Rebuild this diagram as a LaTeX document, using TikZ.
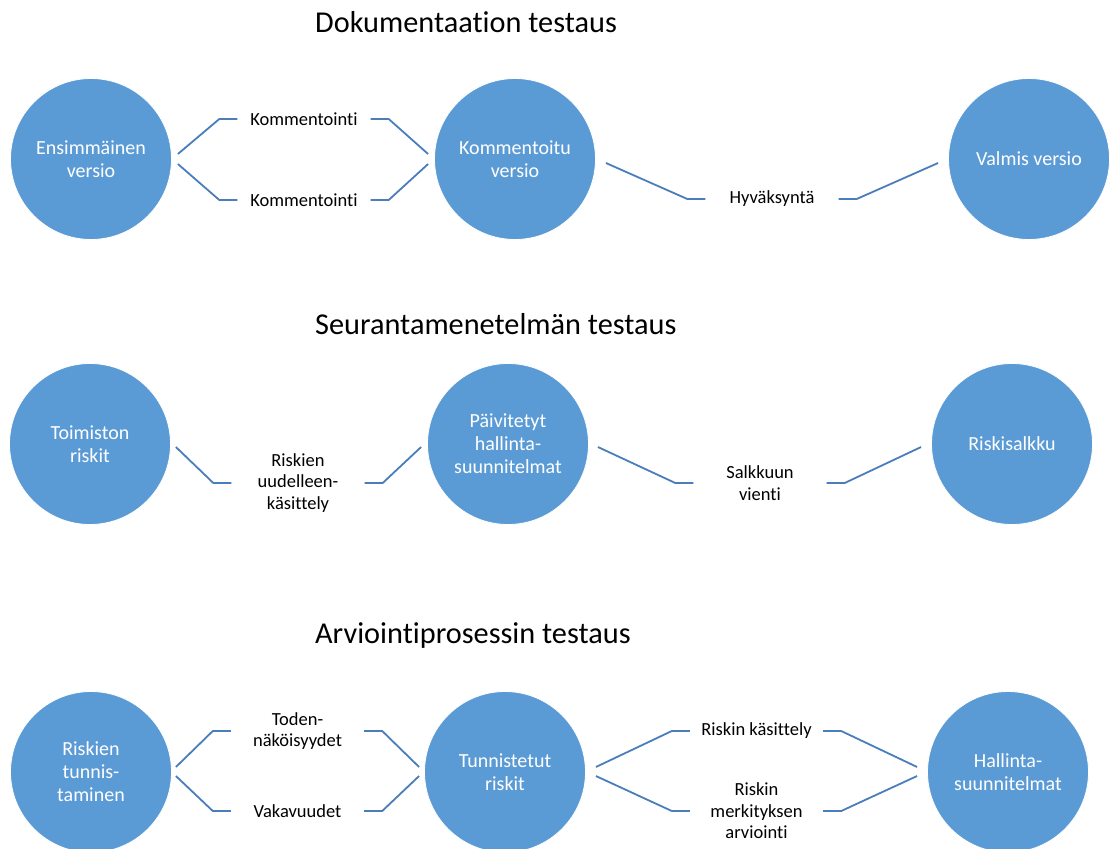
\documentclass[tikz,border=0pt]{standalone}
\usepackage{fontspec}
\setmainfont{Carlito}[RawFeature={-liga;-clig;-calt}]
\usetikzlibrary{calc}

\definecolor{discblue}{HTML}{5B9BD5}
\definecolor{linkblue}{HTML}{4A7EBB}

\tikzset{
  disc/.style={circle, fill=discblue, draw=white, line width=0.8pt,
    minimum size=161pt, inner sep=0pt, text=white, align=center,
    font=\fontsize{20}{23}\selectfont},
  tag/.style={minimum width=133pt, inner sep=0pt, align=center,
    font=\fontsize{18.5}{21.5}\selectfont},
  heading/.style={anchor=base west, inner sep=0pt,
    font=\fontsize{30.3}{35}\selectfont},
  link/.style={draw=linkblue, line width=1.8pt},
}

\begin{document}
\begin{tikzpicture}[x=1pt,y=-1pt]
\useasboundingbox (0,0) rectangle (1110,848);

% headings
\node[heading] (h1) at (315,33)  {Dokumentaation testaus};
\node[heading] (h2) at (315,334) {Seurantamenetelmän testaus};
\node[heading] (h3) at (315,643) {Arviointiprosessin testaus};

% ---- documentation testing ----
\node[disc] (a1) at (91,159)   {Ensimmäinen\\versio};
\node[disc] (a2) at (515,159)  {Kommentoitu\\versio};
\node[disc] (a3) at (1029,159) {Valmis versio};
\node[tag] (a12u) at (304,119) {Kommentointi};
\node[tag] (a12d) at (304,200) {Kommentointi};
\node[tag] (a23)  at (772,199) {Hyväksyntä};

\draw[link] ($(a1.east)+(6,-5)$) -- ([xshift=-18pt]a12u.west) -- (a12u.west);
\draw[link] (a12u.east) -- ([xshift=18pt]a12u.east) -- ($(a2.west)+(-6,-5)$);
\draw[link] ($(a1.east)+(6,5)$) -- ([xshift=-18pt]a12d.west) -- (a12d.west);
\draw[link] (a12d.east) -- ([xshift=18pt]a12d.east) -- ($(a2.west)+(-6,5)$);
\draw[link] ($(a2.east)+(10,4)$) -- ([xshift=-18pt]a23.west) -- (a23.west);
\draw[link] (a23.east) -- ([xshift=18pt]a23.east) -- ($(a3.west)+(-10,4)$);

% ---- monitoring method testing ----
\node[disc] (b1) at (90,444)   {Toimiston\\riskit};
\node[disc] (b2) at (508,444)  {Päivitetyt\\hallinta-\\suunnitelmat};
\node[disc] (b3) at (1012,444) {Riskisalkku};
\node[tag] (b12) at (298,483) {Riskien\\uudelleen-\\käsittely};
\node[tag] (b23) at (760,483) {Salkkuun\\vienti};

\draw[link] ($(b1.east)+(5,3)$) -- ([xshift=-18pt]b12.west) -- (b12.west);
\draw[link] (b12.east) -- ([xshift=18pt]b12.east) -- ($(b2.west)+(-6,3)$);
\draw[link] ($(b2.east)+(9,3)$) -- ([xshift=-18pt]b23.west) -- (b23.west);
\draw[link] (b23.east) -- ([xshift=18pt]b23.east) -- ($(b3.west)+(-10,3)$);

% ---- assessment process testing ----
\node[disc] (c1) at (91,772)   {Riskien\\tunnis-\\taminen};
\node[disc] (c2) at (505,772)  {Tunnistetut\\riskit};
\node[disc] (c3) at (1008,772) {Hallinta-\\suunnitelmat};
\node[tag] (c12u) at (297.5,731) {Toden-\\näköisyydet};
\node[tag] (c12d) at (297.5,811) {Vakavuudet};
\node[tag] (c23u) at (756.5,731) {Riskin käsittely};
\node[tag] (c23d) at (756.5,811) {Riskin\\merkityksen\\arviointi};

\draw[link] ($(c1.east)+(4,-5)$) -- ([xshift=-18pt]c12u.west) -- (c12u.west);
\draw[link] (c12u.east) -- ([xshift=18pt]c12u.east) -- ($(c2.west)+(-5,-5)$);
\draw[link] ($(c1.east)+(4,4)$) -- ([xshift=-18pt]c12d.west) -- (c12d.west);
\draw[link] (c12d.east) -- ([xshift=18pt]c12d.east) -- ($(c2.west)+(-5,4)$);
\draw[link] ($(c2.east)+(10,-5)$) -- ([xshift=-18pt]c23u.west) -- (c23u.west);
\draw[link] (c23u.east) -- ([xshift=18pt]c23u.east) -- ($(c3.west)+(-10,-5)$);
\draw[link] ($(c2.east)+(10,4)$) -- ([xshift=-18pt]c23d.west) -- (c23d.west);
\draw[link] (c23d.east) -- ([xshift=18pt]c23d.east) -- ($(c3.west)+(-10,4)$);
\end{tikzpicture}
\end{document}
